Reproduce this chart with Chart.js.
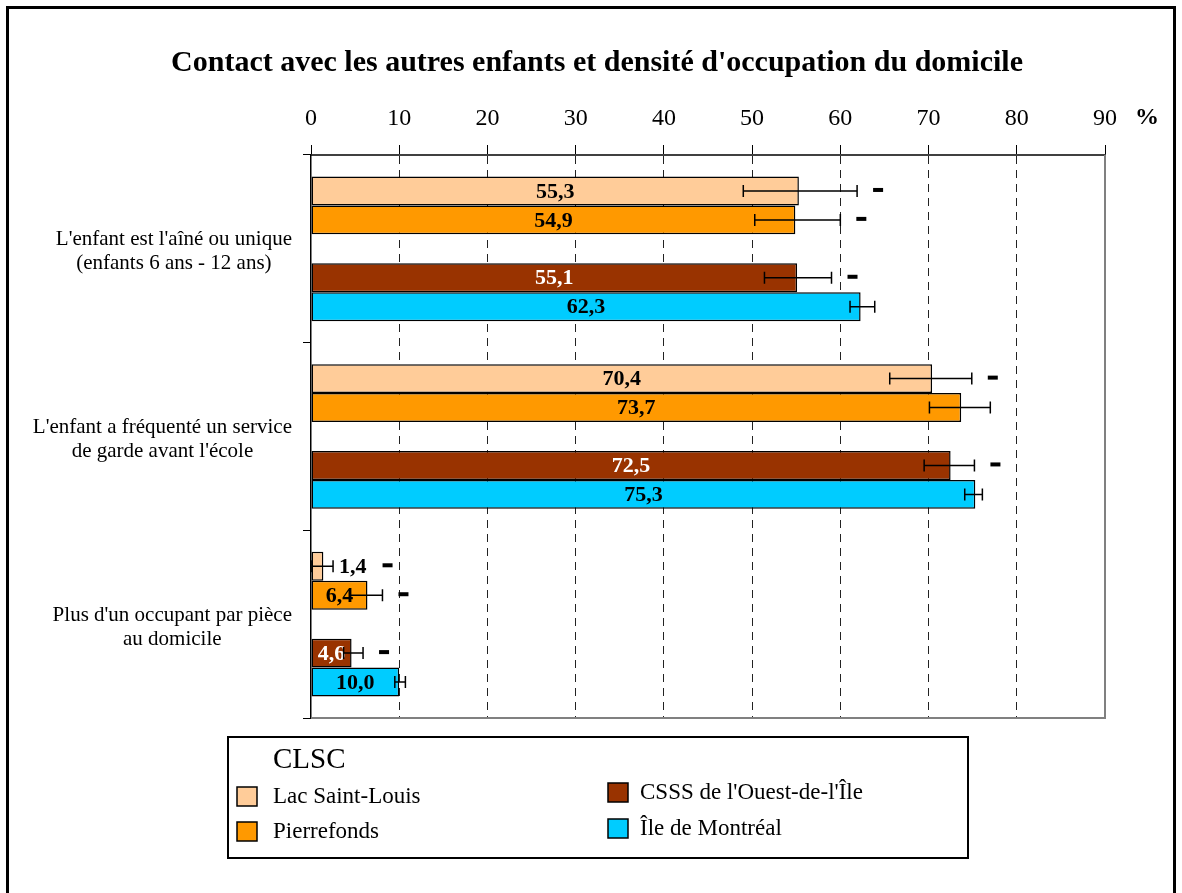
<!DOCTYPE html>
<html>
<head>
<meta charset="utf-8">
<title>Contact avec les autres enfants</title>
<script src="https://cdn.jsdelivr.net/npm/chart.js"></script>
<style>
  html, body { margin: 0; padding: 0; background: #fff; }
</style>
</head>
<body>
<canvas id="barChart" width="1182" height="893"></canvas>
<script>
// categories (multi-line labels)
const categories = [
    ["L'enfant est l'aîné ou unique", "(enfants 6 ans - 12 ans)"],
    ["L'enfant a fréquenté un service", "de garde avant l'école"],
    ["Plus d'un occupant par pièce", "au domicile"]
];

const seriesNames = ['Lac Saint-Louis', 'Pierrefonds', "CSSS de l'Ouest-de-l'Île", 'Île de Montréal'];
const seriesColors = ['#FFCC99', '#FF9900', '#993300', '#00CCFF'];

// percentages
const lacSaintLouis = [55.3, 70.4, 1.4];
const pierrefonds   = [54.9, 73.7, 6.4];
const csssOuest     = [55.1, 72.5, 4.6];
const ileMontreal   = [62.3, 75.3, 10.0];

// confidence intervals (low / high)
const lslLow  = [49.0, 65.6, 0.1];   const lslHigh  = [61.9, 74.9, 2.5];
const pfLow   = [50.3, 70.1, 4.4];   const pfHigh   = [60.0, 77.0, 8.1];
const csssLow = [51.4, 69.5, 3.7];   const csssHigh = [59.0, 75.2, 5.9];
const mtlLow  = [61.1, 74.1, 9.5];   const mtlHigh  = [63.9, 76.1, 10.7];

// "-" significance marks
const lslSig  = [true, true, true];
const pfSig   = [true, false, true];
const csssSig = [true, true, true];
const mtlSig  = [false, false, false];

const xTicks = [0, 10, 20, 30, 40, 50, 60, 70, 80, 90];

const chartTitle = "Contact avec les autres enfants et densité d'occupation du domicile";
const legendTitle = 'CLSC';

const SERIF = "'Liberation Serif', 'Times New Roman', serif";

function fmt(v) { return v.toFixed(1).replace('.', ','); }

// error bars, value labels and "-" marks
const barExtras = {
    id: 'barExtras',
    afterDatasetsDraw(chart) {
        const ctx = chart.ctx;
        const xs = chart.scales.x;
        chart.data.datasets.forEach((ds, di) => {
            if (!ds.errLow) return;
            const meta = chart.getDatasetMeta(di);
            meta.data.forEach((bar, i) => {
                const y = bar.y;
                const xl = xs.getPixelForValue(ds.errLow[i]);
                const xh = xs.getPixelForValue(ds.errHigh[i]);
                const txt = fmt(ds.data[i]);
                ctx.save();
                ctx.font = 'bold 22px ' + SERIF;
                ctx.textBaseline = 'middle';
                const w = ctx.measureText(txt).width;
                let labelRight = 0;
                if (w + 4 < bar.x - bar.base) {
                    ctx.fillStyle = ds.labelColor;
                    ctx.textAlign = 'center';
                    ctx.fillText(txt, (bar.x + bar.base) / 2, y + 1);
                } else {
                    ctx.fillStyle = '#000';
                    ctx.textAlign = 'left';
                    ctx.fillText(txt, xh + 6, y + 1);
                    labelRight = xh + 6 + w;
                }
                // error bar
                ctx.strokeStyle = '#000';
                ctx.lineWidth = 1.5;
                ctx.beginPath();
                ctx.moveTo(xl, y); ctx.lineTo(xh, y);
                ctx.moveTo(xl, y - 6); ctx.lineTo(xl, y + 6);
                ctx.moveTo(xh, y - 6); ctx.lineTo(xh, y + 6);
                ctx.stroke();
                if (ds.sig[i]) {
                    const dx = Math.max(xh, labelRight) + 21;
                    ctx.fillStyle = '#000';
                    ctx.fillRect(dx - 5, y - 3, 10, 4);
                }
                ctx.restore();
            });
        });
    },
    afterDraw(chart) {
        const ctx = chart.ctx;
        const area = chart.chartArea;
        const ys = chart.scales.y;
        ctx.save();
        // outer frame
        ctx.strokeStyle = '#000';
        ctx.lineWidth = 3;
        ctx.strokeRect(7.5, 7.5, 1167, 1000);

        // title
        ctx.fillStyle = '#000';
        ctx.font = 'bold 30px ' + SERIF;
        ctx.textAlign = 'center';
        ctx.textBaseline = 'middle';
        ctx.fillText(chartTitle, 597, 63);

        // right and bottom plot edges
        ctx.strokeStyle = '#808080';
        ctx.lineWidth = 2;
        ctx.beginPath();
        ctx.moveTo(area.right, area.top); ctx.lineTo(area.right, area.bottom);
        ctx.lineTo(area.left, area.bottom);
        ctx.stroke();

        // % unit
        ctx.font = 'bold 24px ' + SERIF;
        ctx.textAlign = 'left';
        ctx.fillText('%', area.right + 30, 118);

        // category labels: block right-aligned, lines centred within it
        ctx.font = '21px ' + SERIF;
        ctx.textAlign = 'center';
        categories.forEach((lines, i) => {
            const cy = ys.getPixelForValue(i) + 3;
            const widest = Math.max(...lines.map(l => ctx.measureText(l).width));
            const cx = 292 - widest / 2;
            lines.forEach((l, k) => {
                ctx.fillText(l, cx, cy + (k - (lines.length - 1) / 2) * 24);
            });
        });

        // legend box
        ctx.strokeStyle = '#000';
        ctx.lineWidth = 2;
        ctx.strokeRect(228, 737, 740, 121);
        ctx.font = '29px ' + SERIF;
        ctx.textAlign = 'left';
        ctx.fillText(legendTitle, 273, 760);
        ctx.font = '23px ' + SERIF;
        const pos = [[237, 273, 796], [237, 273, 831], [608, 640, 792], [608, 640, 828]];
        chart.data.datasets.filter(d => d.errLow).forEach((d, k) => {
            const [sx, tx, sy] = pos[k];
            ctx.fillStyle = d.backgroundColor;
            ctx.fillRect(sx, sy - 9, 20, 19);
            ctx.lineWidth = 1.5;
            ctx.strokeRect(sx, sy - 9, 20, 19);
            ctx.fillStyle = '#000';
            ctx.fillText(d.label, tx, sy + 1);
        });
        ctx.restore();
    }
};

function series(k, data, lo, hi, sig, labelColor) {
    return {
        label: seriesNames[k], data: data,
        backgroundColor: seriesColors[k], borderColor: '#000', borderWidth: 1.5, borderSkipped: false,
        errLow: lo, errHigh: hi, sig: sig, labelColor: labelColor,
        categoryPercentage: 0.771, barPercentage: 1
    };
}

const ctx = document.getElementById('barChart').getContext('2d');
new Chart(ctx, {
    type: 'bar',
    data: {
        labels: categories,
        datasets: [
            series(0, lacSaintLouis, lslLow, lslHigh, lslSig, '#000'),
            series(1, pierrefonds, pfLow, pfHigh, pfSig, '#000'),
            { label: '', data: [null, null, null], categoryPercentage: 0.771, barPercentage: 1 },
            series(2, csssOuest, csssLow, csssHigh, csssSig, '#fff'),
            series(3, ileMontreal, mtlLow, mtlHigh, mtlSig, '#000')
        ]
    },
    options: {
        indexAxis: 'y',
        responsive: false,
        animation: false,
        layout: { padding: { top: 105, left: 0, right: 77, bottom: 175 } },
        plugins: {
            legend: { display: false },
            tooltip: { enabled: false },
            title: { display: false }
        },
        scales: {
            x: {
                position: 'top',
                min: 0, max: 90,
                afterBuildTicks: s => { s.ticks = xTicks.map(v => ({ value: v })); },
                afterFit: s => { s.height = 50; },
                ticks: { color: '#000', font: { family: SERIF, size: 24 }, padding: 12, maxRotation: 0 },
                grid: {
                    color: c => (c.tick && c.tick.value === 0) ? 'rgba(0,0,0,0)' : (c.tick && c.tick.value === 90 ? '#808080' : '#222'),
                    lineWidth: 1,
                    tickLength: 10,
                    tickColor: '#000',
                    tickBorderDash: []
                },
                border: { color: '#404040', width: 2, dash: [8, 6] }
            },
            y: {
                afterFit: s => { s.width = 311; },
                ticks: { display: false },
                grid: { offset: true, drawOnChartArea: false, drawTicks: true, tickLength: 8, color: '#000', tickColor: '#000' },
                border: { color: '#000', width: 1.5 }
            }
        }
    },
    plugins: [barExtras]
});
</script>
</body>
</html>
